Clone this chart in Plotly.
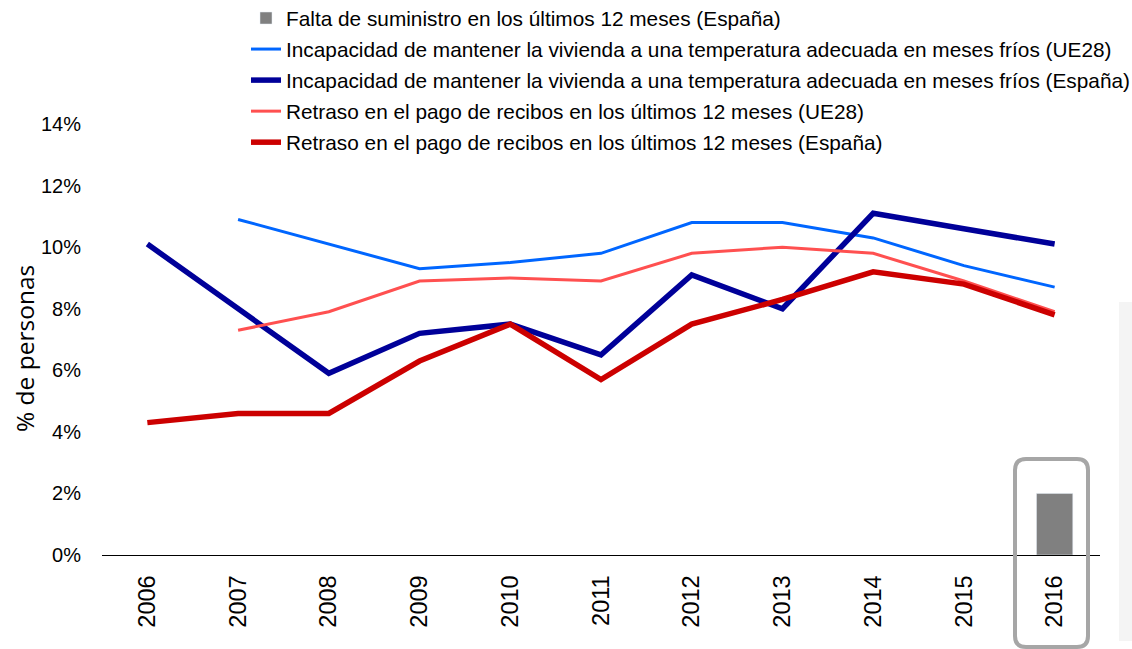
import plotly.graph_objects as go

years = ["2006", "2007", "2008", "2009", "2010", "2011", "2012", "2013", "2014", "2015", "2016"]
falta_suministro_es = [None, None, None, None, None, None, None, None, None, None, 2.0]
temp_ue28 = [None, 10.9, 10.1, 9.3, 9.5, 9.8, 10.8, 10.8, 10.3, 9.4, 8.7]
temp_es = [10.1, 8.0, 5.9, 7.2, 7.5, 6.5, 9.1, 8.0, 11.1, 10.6, 10.1]
retraso_ue28 = [None, 7.3, 7.9, 8.9, 9.0, 8.9, 9.8, 10.0, 9.8, 8.9, 7.9]
retraso_es = [4.3, 4.6, 4.6, 6.3, 7.5, 5.7, 7.5, 8.3, 9.2, 8.8, 7.8]
y_ticks = [0, 2, 4, 6, 8, 10, 12, 14]
y_tick_labels = ["0%", "2%", "4%", "6%", "8%", "10%", "12%", "14%"]
y_title = "% de personas"

names = [
    "Falta de suministro en los últimos 12 meses (España)",
    "Incapacidad de mantener la vivienda a una temperatura adecuada en meses fríos (UE28)",
    "Incapacidad de mantener la vivienda a una temperatura adecuada en meses fríos (España)",
    "Retraso en el pago de recibos en los últimos 12 meses (UE28)",
    "Retraso en el pago de recibos en los últimos 12 meses (España)",
]

W, H = 1132, 649
ml, mr, mt, mb = 102, 32, 124, 94
pw, ph = W - ml - mr, H - mt - mb

fig = go.Figure()
fig.add_trace(go.Bar(x=years, y=falta_suministro_es, name=names[0], marker_color="#808080",
                     width=0.4, legendgroup="g0"))
fig.add_trace(go.Scatter(x=years, y=temp_ue28, name=names[1], mode="lines",
                         line=dict(color="#0066FF", width=3), legendgroup="g1"))
fig.add_trace(go.Scatter(x=years, y=temp_es, name=names[2], mode="lines",
                         line=dict(color="#000099", width=5.5), legendgroup="g2"))
fig.add_trace(go.Scatter(x=years, y=retraso_ue28, name=names[3], mode="lines",
                         line=dict(color="#FF5050", width=3), legendgroup="g3"))
fig.add_trace(go.Scatter(x=years, y=retraso_es, name=names[4], mode="lines",
                         line=dict(color="#CC0000", width=5.5), legendgroup="g4"))


def px_x(p):
    return (p - ml) / pw


def px_y(p):
    return (H - mb - p) / ph


def rounded_path(x0, y0, x1, y1, r):
    X0, X1 = px_x(x0), px_x(x1)
    Y0, Y1 = px_y(y0), px_y(y1)  # Y0 top, Y1 bottom
    rx, ry = r / pw, r / ph
    return (f"M {X0+rx} {Y0} L {X1-rx} {Y0} Q {X1} {Y0} {X1} {Y0-ry} "
            f"L {X1} {Y1+ry} Q {X1} {Y1} {X1-rx} {Y1} L {X0+rx} {Y1} "
            f"Q {X0} {Y1} {X0} {Y1+ry} L {X0} {Y0-ry} Q {X0} {Y0} {X0+rx} {Y0} Z")


fig.add_shape(type="rect", xref="paper", yref="paper",
              x0=px_x(1119), x1=px_x(1134), y0=px_y(641), y1=px_y(302),
              fillcolor="#F4F4F4", line=dict(width=0), layer="below")
fig.add_shape(type="path", xref="paper", yref="paper",
              path=rounded_path(1015, 459, 1088, 647, 11),
              line=dict(color="#A6A6A6", width=4), fillcolor="rgba(0,0,0,0)")

fig.add_annotation(text=y_title, xref="paper", yref="paper", x=px_x(24), y=px_y(349),
                   xanchor="center", yanchor="middle", textangle=-90, showarrow=False,
                   font=dict(family="Open Sans, sans-serif", size=24.5, color="#000000"))

fig.update_layout(
    width=W, height=H,
    margin=dict(l=ml, r=mr, t=mt, b=mb, autoexpand=False),
    paper_bgcolor="white", plot_bgcolor="white",
    showlegend=True,
    legend=dict(x=px_x(246), y=px_y(-2), xanchor="left", yanchor="top",
                font=dict(family="Liberation Sans Narrow, Arial Narrow, sans-serif", size=20.8, color="#000000"),
                bgcolor="rgba(0,0,0,0)", tracegroupgap=1, itemwidth=30),
    bargap=0.6,
)
fig.update_xaxes(type="category", categoryorder="array", categoryarray=years,
                 showline=True, linecolor="#000000", linewidth=1,
                 showgrid=False, zeroline=False, tickangle=-90,
                 ticks="", tickfont=dict(family="Liberation Sans, Arial, sans-serif", size=23.5, color="#000000"),
                 ticklabelstandoff=10, range=[-0.5, 10.5])
fig.update_yaxes(range=[0, 14], tickvals=y_ticks, ticktext=y_tick_labels,
                 showgrid=False, zeroline=False, showline=False, ticks="",
                 tickfont=dict(family="Liberation Sans Narrow, Arial Narrow, sans-serif", size=20, color="#000000"),
                 ticklabelstandoff=20)

fig.write_html("out.html", post_script="document.body.style.margin='0';",
               config={"displayModeBar": False})
